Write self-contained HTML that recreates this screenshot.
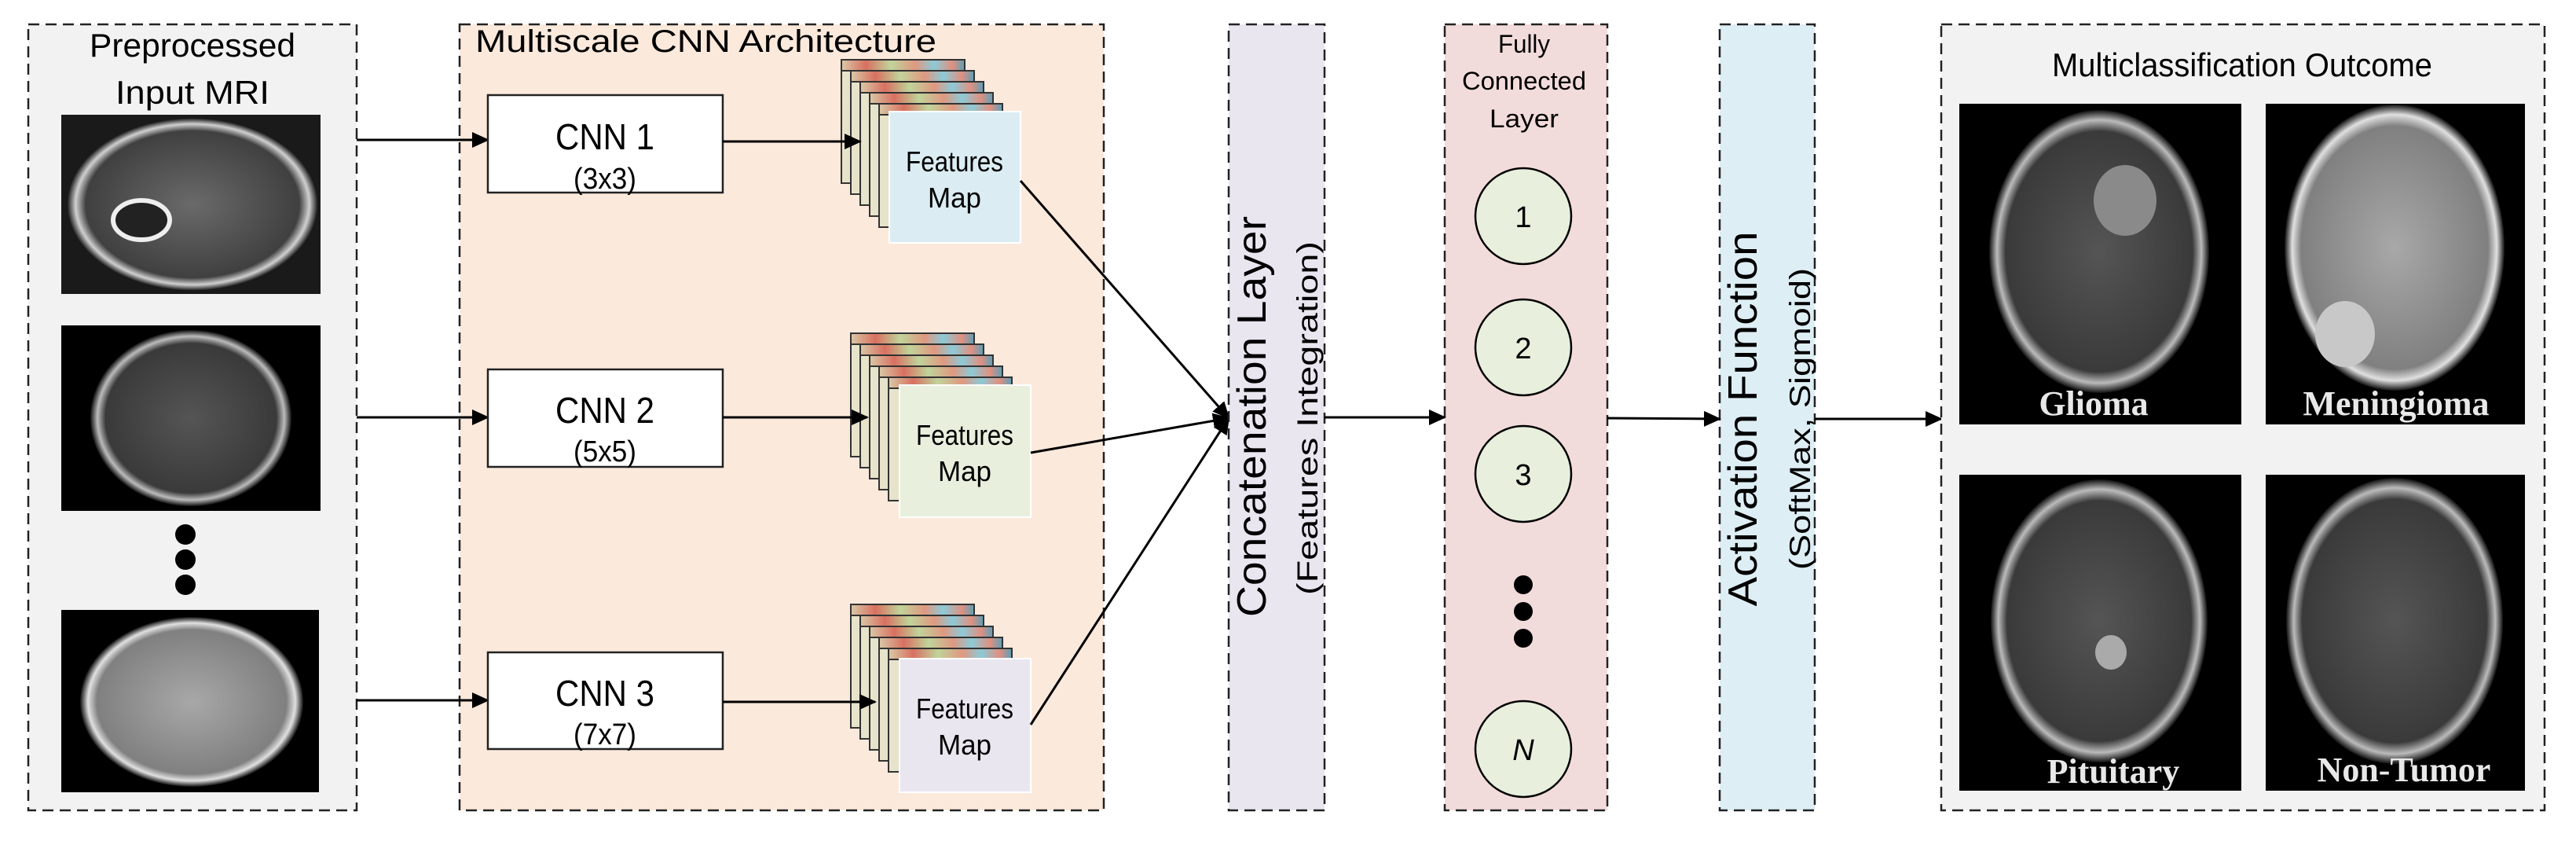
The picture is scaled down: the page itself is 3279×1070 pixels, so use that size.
<!DOCTYPE html>
<html><head><meta charset="utf-8"><style>
html,body{margin:0;padding:0;background:#fff;width:3279px;height:1070px;overflow:hidden}
svg{display:block}
text{font-family:"Liberation Sans",sans-serif;fill:#000}
</style></head><body>
<svg width="3279" height="1070" viewBox="0 0 3279 1070" xmlns="http://www.w3.org/2000/svg">
<defs>
<marker id="ah2" markerWidth="22" markerHeight="20" refX="20" refY="10" orient="auto" markerUnits="userSpaceOnUse" viewBox="0 0 22 20">
<path d="M0,0 L22,10 L0,20 z" fill="#000"/></marker>
<linearGradient id="rb" x1="0" x2="1" y1="0" y2="0">
<stop offset="0" stop-color="#d9c9a8"/><stop offset="0.2" stop-color="#d87060"/><stop offset="0.4" stop-color="#c0d49a"/>
<stop offset="0.6" stop-color="#e09880"/><stop offset="0.75" stop-color="#8ccbd8"/><stop offset="0.9" stop-color="#e09080"/><stop offset="1" stop-color="#5aa0b8"/></linearGradient>
<linearGradient id="bg1" x1="0" x2="1"><stop offset="0" stop-color="#e8e4cc"/><stop offset="1" stop-color="#d9d0b4"/></linearGradient>
<radialGradient id="brain" cx="0.5" cy="0.5" r="0.5"><stop offset="0" stop-color="#6a6a6a"/><stop offset="0.85" stop-color="#404040"/><stop offset="0.93" stop-color="#d0d0d0"/><stop offset="1" stop-color="#111"/></radialGradient>
<radialGradient id="brainB" cx="0.5" cy="0.5" r="0.5"><stop offset="0" stop-color="#a8a8a8"/><stop offset="0.85" stop-color="#808080"/><stop offset="0.93" stop-color="#e0e0e0"/><stop offset="1" stop-color="#111"/></radialGradient>
<radialGradient id="brainD" cx="0.5" cy="0.5" r="0.5"><stop offset="0" stop-color="#555"/><stop offset="0.85" stop-color="#3a3a3a"/><stop offset="0.93" stop-color="#bbb"/><stop offset="1" stop-color="#111"/></radialGradient>
<g id="stk">
<rect x="0" y="0" width="157" height="157" fill="url(#bg1)" stroke="#333" stroke-width="2"/><rect x="0" y="0" width="157" height="14" fill="url(#rb)" stroke="#333" stroke-width="2"/>
</g>
</defs>

<!-- Left box -->
<rect x="36" y="31" width="418" height="1000" fill="#f2f2f2" stroke="#222" stroke-width="2.5" stroke-dasharray="14,8"/>
<text x="245" y="72" font-size="42" text-anchor="middle" textLength="262" lengthAdjust="spacingAndGlyphs">Preprocessed</text>
<text x="245" y="132" font-size="42" text-anchor="middle" textLength="196" lengthAdjust="spacingAndGlyphs">Input MRI</text>
<rect x="78" y="146" width="330" height="228" fill="#1a1a1a"/>
<ellipse cx="245" cy="260" rx="160" ry="110" fill="url(#brain)"/>
<ellipse cx="180" cy="280" rx="36" ry="25" fill="#222" stroke="#eee" stroke-width="6"/>
<rect x="78" y="414" width="330" height="236" fill="#000"/>
<ellipse cx="243" cy="532" rx="128" ry="112" fill="url(#brainD)"/>
<circle cx="236" cy="680" r="13"/><circle cx="236" cy="712" r="13"/><circle cx="236" cy="744" r="13"/>
<rect x="78" y="776" width="328" height="232" fill="#000"/>
<ellipse cx="244" cy="893" rx="142" ry="108" fill="url(#brainB)"/>

<!-- Multiscale box -->
<rect x="585" y="31" width="820" height="1000" fill="#fbe9dc" stroke="#222" stroke-width="2.5" stroke-dasharray="14,8"/>
<text x="605" y="66" font-size="40" textLength="587" lengthAdjust="spacingAndGlyphs">Multiscale CNN Architecture</text>

<g stroke="#000" stroke-width="3" fill="none" marker-end="url(#ah2)">
<line x1="454" y1="178" x2="621" y2="178"/>
<line x1="454" y1="531" x2="621" y2="531"/>
<line x1="454" y1="891" x2="621" y2="891"/>
</g>
<g fill="#fff" stroke="#222" stroke-width="2.5">
<rect x="621" y="121" width="299" height="124"/>
<rect x="621" y="470" width="299" height="124"/>
<rect x="621" y="830" width="299" height="123"/>
</g>
<g text-anchor="middle">
<text x="770" y="190" font-size="46" textLength="126" lengthAdjust="spacingAndGlyphs">CNN 1</text><text x="770" y="240" font-size="38" textLength="80" lengthAdjust="spacingAndGlyphs">(3x3)</text>
<text x="770" y="538" font-size="46" textLength="126" lengthAdjust="spacingAndGlyphs">CNN 2</text><text x="770" y="587" font-size="38" textLength="80" lengthAdjust="spacingAndGlyphs">(5x5)</text>
<text x="770" y="898" font-size="46" textLength="126" lengthAdjust="spacingAndGlyphs">CNN 3</text><text x="770" y="947" font-size="38" textLength="80" lengthAdjust="spacingAndGlyphs">(7x7)</text>
</g>

<!-- stacks -->
<g>
<use href="#stk" x="1071" y="76"/><use href="#stk" x="1083" y="90"/><use href="#stk" x="1095" y="104"/><use href="#stk" x="1107" y="118"/><use href="#stk" x="1119" y="132"/>
</g>
<g>
<use href="#stk" x="1083" y="424"/><use href="#stk" x="1095" y="438"/><use href="#stk" x="1107" y="452"/><use href="#stk" x="1119" y="466"/><use href="#stk" x="1131" y="480"/>
</g>
<g>
<use href="#stk" x="1083" y="769"/><use href="#stk" x="1095" y="783"/><use href="#stk" x="1107" y="797"/><use href="#stk" x="1119" y="811"/><use href="#stk" x="1131" y="825"/>
</g>
<g stroke="#000" stroke-width="3" fill="none" marker-end="url(#ah2)">
<line x1="920" y1="180" x2="1095" y2="180"/>
<line x1="920" y1="531" x2="1104" y2="531"/>
<line x1="920" y1="893" x2="1114" y2="893"/>
</g>
<rect x="1132" y="142" width="167" height="167" fill="#dbedf3" stroke="#fff" stroke-width="2"/>
<text x="1215" y="218" font-size="36" text-anchor="middle" textLength="124" lengthAdjust="spacingAndGlyphs">Features</text><text x="1215" y="264" font-size="36" text-anchor="middle" textLength="68" lengthAdjust="spacingAndGlyphs">Map</text>
<rect x="1145" y="490" width="167" height="168" fill="#e8efdd" stroke="#fff" stroke-width="2"/>
<text x="1228" y="566" font-size="36" text-anchor="middle" textLength="124" lengthAdjust="spacingAndGlyphs">Features</text><text x="1228" y="612" font-size="36" text-anchor="middle" textLength="68" lengthAdjust="spacingAndGlyphs">Map</text>
<rect x="1145" y="838" width="167" height="170" fill="#e9e6f0" stroke="#fff" stroke-width="2"/>
<text x="1228" y="914" font-size="36" text-anchor="middle" textLength="124" lengthAdjust="spacingAndGlyphs">Features</text><text x="1228" y="960" font-size="36" text-anchor="middle" textLength="68" lengthAdjust="spacingAndGlyphs">Map</text>

<g stroke="#000" stroke-width="3" fill="none" marker-end="url(#ah2)">
<line x1="1299" y1="230" x2="1564" y2="532"/>
<line x1="1312" y1="576" x2="1564" y2="532"/>
<line x1="1312" y1="922" x2="1564" y2="532"/>
</g>

<!-- Concat -->
<rect x="1564" y="31" width="122" height="1000" fill="#eae6f0" stroke="#222" stroke-width="2.5" stroke-dasharray="14,8"/>
<text transform="translate(1611,530) rotate(-90)" font-size="52" text-anchor="middle" textLength="510" lengthAdjust="spacingAndGlyphs">Concatenation Layer</text>
<text transform="translate(1677,532) rotate(-90)" font-size="37" text-anchor="middle" textLength="450" lengthAdjust="spacingAndGlyphs">(Features Integration)</text>

<!-- FC -->
<rect x="1839" y="31" width="207" height="1000" fill="#f2dcdb" stroke="#222" stroke-width="2.5" stroke-dasharray="14,8"/>
<g text-anchor="middle" font-size="32">
<text x="1940" y="67" textLength="66" lengthAdjust="spacingAndGlyphs">Fully</text><text x="1940" y="114" textLength="158" lengthAdjust="spacingAndGlyphs">Connected</text><text x="1940" y="162" textLength="88" lengthAdjust="spacingAndGlyphs">Layer</text>
</g>
<g fill="#e8efdd" stroke="#000" stroke-width="2.5">
<circle cx="1939" cy="275" r="61"/><circle cx="1939" cy="442" r="61"/><circle cx="1939" cy="603" r="61"/><circle cx="1939" cy="953" r="61"/>
</g>
<g text-anchor="middle" font-size="38">
<text x="1939" y="289">1</text><text x="1939" y="456">2</text><text x="1939" y="617">3</text><text x="1939" y="967" font-style="italic">N</text>
</g>
<circle cx="1939" cy="744" r="12"/><circle cx="1939" cy="778" r="12"/><circle cx="1939" cy="812" r="12"/>

<!-- Activation -->
<rect x="2189" y="31" width="121" height="1000" fill="#deeef5" stroke="#222" stroke-width="2.5" stroke-dasharray="14,8"/>
<text transform="translate(2236,533) rotate(-90)" font-size="52" text-anchor="middle" textLength="477" lengthAdjust="spacingAndGlyphs">Activation Function</text>
<text transform="translate(2304,533) rotate(-90)" font-size="37" text-anchor="middle" textLength="384" lengthAdjust="spacingAndGlyphs">(SoftMax, Sigmoid)</text>

<g stroke="#000" stroke-width="3" fill="none" marker-end="url(#ah2)">
<line x1="1686" y1="531" x2="1839" y2="531"/>
<line x1="2046" y1="532" x2="2189" y2="533"/>
<line x1="2310" y1="533" x2="2471" y2="533"/>
</g>

<!-- Outcome -->
<rect x="2471" y="31" width="768" height="1000" fill="#f2f2f2" stroke="#222" stroke-width="2.5" stroke-dasharray="14,8"/>
<text x="2854" y="97" font-size="42" text-anchor="middle" textLength="484" lengthAdjust="spacingAndGlyphs">Multiclassification Outcome</text>
<rect x="2494" y="132" width="359" height="408" fill="#000"/>
<ellipse cx="2672" cy="320" rx="140" ry="180" fill="url(#brainD)"/>
<ellipse cx="2705" cy="255" rx="40" ry="45" fill="#8a8a8a"/>
<rect x="2884" y="132" width="330" height="408" fill="#000"/>
<ellipse cx="3048" cy="315" rx="140" ry="182" fill="url(#brainB)"/>
<ellipse cx="2985" cy="425" rx="38" ry="42" fill="#c8c8c8"/>
<rect x="2494" y="604" width="359" height="402" fill="#000"/>
<ellipse cx="2672" cy="790" rx="138" ry="180" fill="url(#brainD)"/>
<ellipse cx="2687" cy="830" rx="20" ry="22" fill="#aaa"/>
<rect x="2884" y="604" width="330" height="402" fill="#000"/>
<ellipse cx="3048" cy="790" rx="138" ry="182" fill="url(#brainD)"/>
<g text-anchor="middle" font-size="44" font-weight="bold">
<text x="2665" y="528" style="fill:#e8e8e8;font-family:'Liberation Serif',serif">Glioma</text>
<text x="3050" y="528" style="fill:#e8e8e8;font-family:'Liberation Serif',serif">Meningioma</text>
<text x="2690" y="996" style="fill:#e8e8e8;font-family:'Liberation Serif',serif">Pituitary</text>
<text x="3060" y="994" style="fill:#e8e8e8;font-family:'Liberation Serif',serif">Non-Tumor</text>
</g>
</svg>
</body></html>
